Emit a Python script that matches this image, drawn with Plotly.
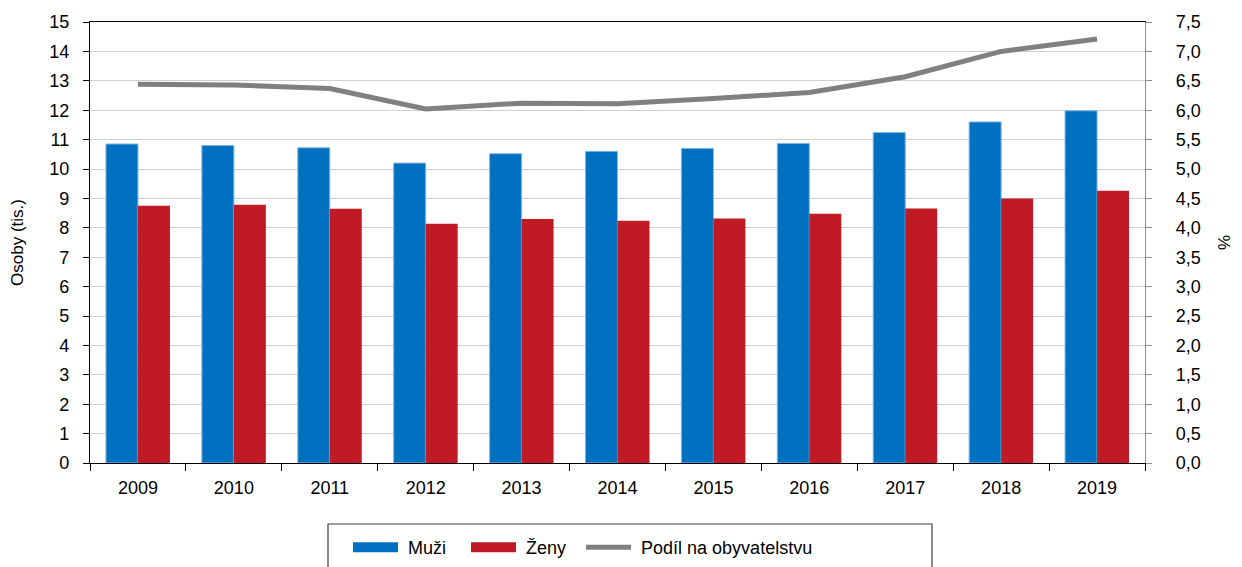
import plotly.graph_objects as go

years = ["2009", "2010", "2011", "2012", "2013", "2014", "2015", "2016", "2017", "2018", "2019"]
muzi = [10.85, 10.8, 10.72, 10.2, 10.52, 10.6, 10.7, 10.87, 11.24, 11.6, 11.98]
zeny = [8.75, 8.78, 8.65, 8.14, 8.3, 8.24, 8.32, 8.48, 8.66, 9.0, 9.26]
podil = [6.44, 6.43, 6.37, 6.02, 6.12, 6.11, 6.2, 6.3, 6.57, 7.0, 7.21]

left_ticks = list(range(0, 16))
left_labels = [f"{v}\u00a0\u00a0" for v in left_ticks]
right_ticks = [i * 0.5 for i in range(16)]
right_labels = ["\u00a0\u00a0\u00a0\u00a0" + f"{v:.1f}".replace(".", ",") for v in right_ticks]

FONT = "Liberation Sans, Arial, sans-serif"
BLUE = "#0070C0"
RED = "#C01A25"
GRAY = "#808080"
NB = "\u00a0"

# page body has an 8px margin: figure origin sits at (8, 8) in the window
W, H = 1234, 559
L, R, T, B = 82, 97, 14, 104
PW = W - L - R
PH = H - T - B


def px_x(x):  # window px -> paper x
    return (x - 8 - L) / PW


def px_y(y):  # window px -> paper y
    return (H - B - (y - 8)) / PH


fig = go.Figure()
fig.add_trace(go.Bar(x=years, y=muzi, name="Muži", showlegend=False,
                     marker=dict(color=BLUE, line=dict(color="#7FB3E0", width=1))))
fig.add_trace(go.Bar(x=years, y=zeny, name="Ženy", showlegend=False,
                     marker=dict(color=RED, line=dict(width=0))))
fig.add_trace(go.Scatter(x=years, y=podil, name="Podíl na obyvatelstvu", yaxis="y2", mode="lines",
                         line=dict(color=GRAY, width=5), showlegend=False))
# legend entries (wide swatches like the original)
fig.add_trace(go.Scatter(x=[None], y=[None], name=NB + "Muži" + NB * 3, mode="lines",
                         line=dict(color=BLUE, width=10)))
fig.add_trace(go.Scatter(x=[None], y=[None], name=NB + "Ženy" + NB * 2, mode="lines",
                         line=dict(color=RED, width=10)))
fig.add_trace(go.Scatter(x=[None], y=[None], name=NB + "Podíl na obyvatelstvu", mode="lines",
                         line=dict(color=GRAY, width=5)))

fig.update_layout(
    width=W, height=H,
    margin=dict(l=L, r=R, t=T, b=B, autoexpand=False),
    plot_bgcolor="white", paper_bgcolor="white",
    font=dict(family=FONT, size=18, color="#000000"),
    barmode="group", bargap=0.333, bargroupgap=0,
    xaxis=dict(type="category", showline=True, linecolor="#000000", linewidth=1.2, mirror=True,
               ticks="outside", tickson="boundaries", ticklen=7, tickcolor="#000000",
               showgrid=False, tickfont=dict(size=18), automargin=False, ticklabelstandoff=8),
    yaxis=dict(range=[0, 15], tickvals=left_ticks, ticktext=left_labels, showline=True,
               linecolor="#000000", linewidth=1.2,
               ticks="outside", ticklen=6, tickcolor="#000000", showgrid=True, gridcolor="#CFCFCF",
               gridwidth=1.2, zeroline=False, automargin=False,
               title=dict(text="Osoby (tis.)", font=dict(size=17), standoff=30)),
    yaxis2=dict(range=[0, 7.5], tickvals=right_ticks, ticktext=right_labels, overlaying="y", side="right",
                showline=True, linecolor="#909090", linewidth=1.2, ticks="outside", ticklen=6,
                tickcolor="#909090", showgrid=False, zeroline=False, automargin=False),
    legend=dict(orientation="h", x=px_x(348), xanchor="left", y=px_y(529), yanchor="top",
                borderwidth=0, font=dict(size=18), itemwidth=45,
                traceorder="normal", bgcolor="rgba(0,0,0,0)"),
    shapes=[dict(type="rect", xref="paper", yref="paper",
                 x0=px_x(328), x1=px_x(932), y0=px_y(524), y1=px_y(580),
                 line=dict(color="#404040", width=1.2), fillcolor="rgba(0,0,0,0)", layer="below")],
    annotations=[dict(text="%", xref="paper", yref="paper", x=px_x(1225), y=px_y(243),
                      xanchor="center", yanchor="middle", textangle=-90, showarrow=False,
                      font=dict(size=17))],
)

fig.write_html("out.html")
